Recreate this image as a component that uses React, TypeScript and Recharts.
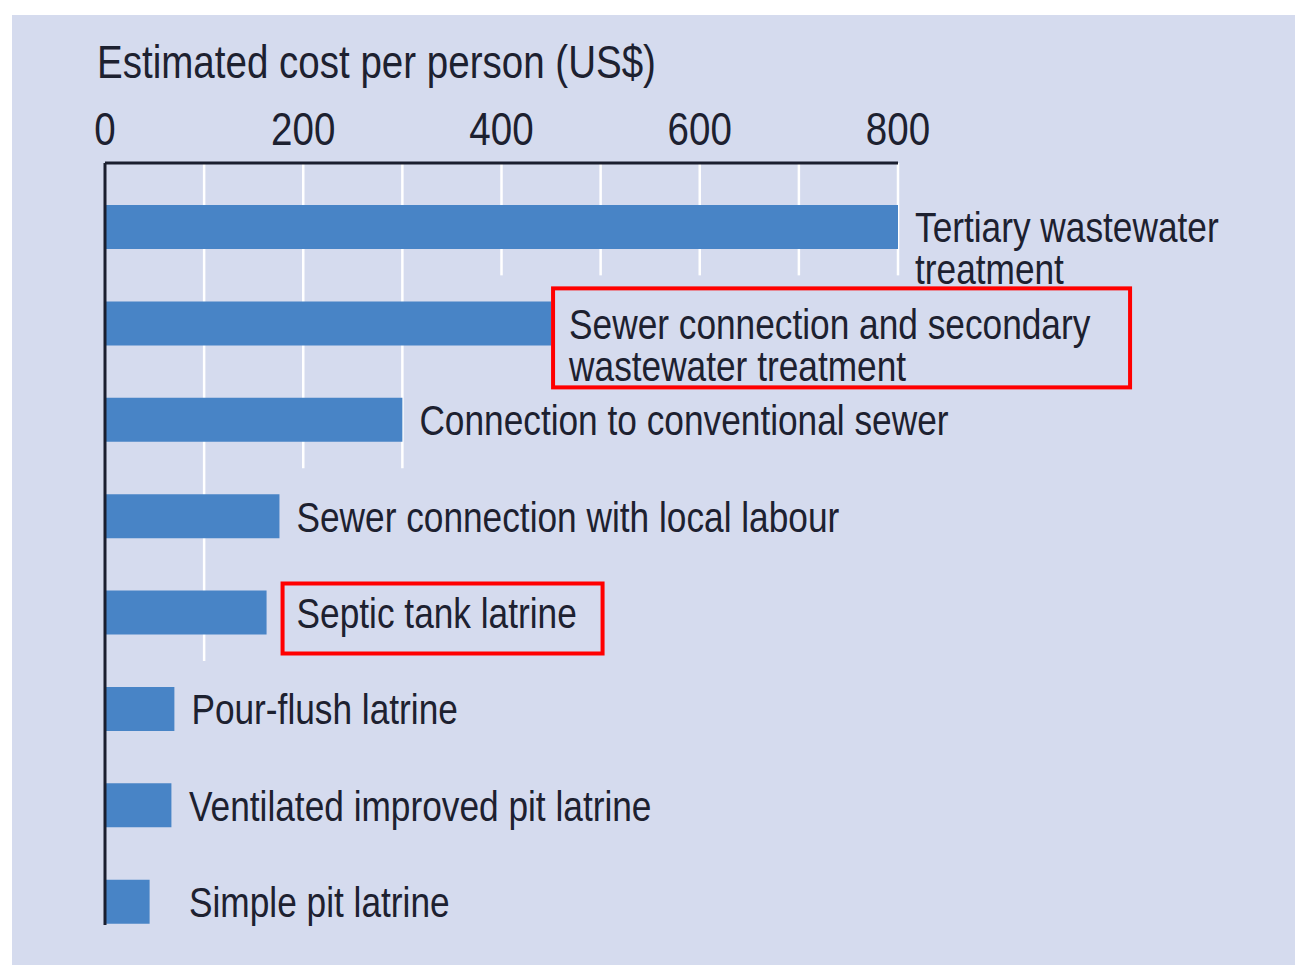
import { BarChart, Bar, XAxis, YAxis, ReferenceArea, LabelList } from "recharts";

// Estimated cost per person (US$) for each sanitation option
const categories = [
  "Tertiary wastewater\ntreatment",
  "Sewer connection and secondary\nwastewater treatment",
  "Connection to conventional sewer",
  "Sewer connection with local labour",
  "Septic tank latrine",
  "Pour-flush latrine",
  "Ventilated improved pit latrine",
  "Simple pit latrine",
];
const costs = [800, 450, 300, 176, 163, 70, 67, 45];
const xTicks = [0, 200, 400, 600, 800];

// white gridlines and the last row each one runs down to
const gridValues = [100, 200, 300, 400, 500, 600, 700, 800];
const gridLastRow = [4, 2, 2, 0, 0, 0, 0, 0];

const data = categories.map((name, i) => ({ name, cost: costs[i] }));

// no narrow font installed, so squeeze Liberation Sans horizontally
const FONT = '"Liberation Sans", Arial, sans-serif';
const NARROW = 0.82;
const TEXT = "#1d2130";
const PANEL = "#d5dbee";
const BAR = "#4884c6";
const AXIS = "#1a1e2e";
const PAD_TOP = 16;

// red highlight boxes, relative to bar end / bar centre
const boxes: Record<string, { dx: number; dy: number; w: number; h: number; textDx: number }> = {
  [categories[1]]: { dx: 2, dy: -35, w: 577, h: 99, textDx: 18 },
  [categories[4]]: { dx: 16, dy: -29, w: 320, h: 70, textDx: 30 },
};

const GridLine = (props: any) => {
  const { x, y, height } = props;
  return (
    <line x1={x} x2={x} y1={y - PAD_TOP} y2={y + height} stroke="#ffffff" strokeWidth={2.5} />
  );
};

const XTick = (props: any) => {
  const { x, y, payload } = props;
  return (
    <g transform={`translate(${x} ${y}) scale(${NARROW} 1)`}>
      <text x={0} y={0} textAnchor="middle" fill={TEXT} fontFamily={FONT} fontSize={47}>
        {payload.value}
      </text>
    </g>
  );
};

const renderLabel = (props: any) => {
  const { x, y, width, height, value } = props;
  const name = String(value);
  const barEnd = x + width;
  const cy = y + height / 2;
  const box = boxes[name];
  const tx = box ? barEnd + box.textDx : Math.max(barEnd + 17, x + 84);
  const lines = name.split("\n");
  return (
    <g>
      {box && (
        <rect
          x={barEnd + box.dx}
          y={cy + box.dy}
          width={box.w}
          height={box.h}
          fill="none"
          stroke="#ff0000"
          strokeWidth={4}
        />
      )}
      <g transform={`translate(${tx} ${cy}) scale(${NARROW} 1)`}>
        <text x={0} y={0} fill={TEXT} fontFamily={FONT} fontSize={43}>
          {lines.map((l, i) => (
            <tspan key={i} x={0} dy={i === 0 ? "0.36em" : 42}>
              {l}
            </tspan>
          ))}
        </text>
      </g>
    </g>
  );
};

export default function App() {
  return (
    <div
      style={{
        position: "fixed",
        left: 0,
        top: 0,
        width: 1295,
        height: 965,
        background: "#ffffff",
        overflow: "hidden",
      }}
    >
      <div
        style={{ position: "absolute", left: 12, top: 15, width: 1283, height: 950, background: PANEL }}
      >
        <svg width={700} height={90} style={{ position: "absolute", left: 0, top: 0 }}>
          <g transform={`translate(85 63) scale(${NARROW} 1)`}>
            <text x={0} y={0} fill={TEXT} fontFamily={FONT} fontSize={47}>
              Estimated cost per person (US$)
            </text>
          </g>
        </svg>
        <BarChart
          width={1283}
          height={950}
          layout="vertical"
          data={data}
          margin={{ top: 88, right: 397, bottom: 40, left: 92 }}
        >
          <XAxis
            type="number"
            orientation="top"
            height={60}
            domain={[0, 800]}
            ticks={xTicks}
            axisLine={{ stroke: AXIS, strokeWidth: 3 }}
            tickLine={false}
            tickSize={0}
            tickMargin={18}
            tick={<XTick />}
          />
          <YAxis
            type="category"
            dataKey="name"
            width={1}
            tick={false}
            tickLine={false}
            axisLine={{ stroke: AXIS, strokeWidth: 3 }}
            padding={{ top: PAD_TOP, bottom: -25 }}
          />
          {gridValues.map((v, i) => (
            <ReferenceArea
              key={v}
              x1={v}
              x2={v}
              y2={categories[gridLastRow[i]]}
              shape={GridLine}
              ifOverflow="visible"
            />
          ))}
          <Bar dataKey="cost" fill={BAR} barSize={44} isAnimationActive={false}>
            <LabelList dataKey="name" content={renderLabel} />
          </Bar>
        </BarChart>
      </div>
    </div>
  );
}
